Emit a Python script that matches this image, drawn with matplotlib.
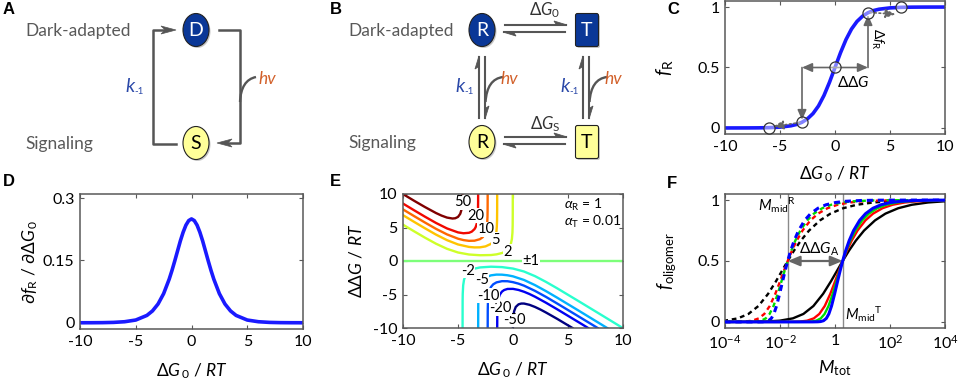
import numpy as np
import matplotlib
matplotlib.use('Agg')
import matplotlib.pyplot as plt
from matplotlib.patches import Ellipse, FancyBboxPatch, Polygon, PathPatch
from matplotlib.path import Path

plt.rcParams['font.family'] = ['Lato', 'DejaVu Sans']
plt.rcParams['mathtext.fontset'] = 'custom'
plt.rcParams['mathtext.rm'] = 'Lato'
plt.rcParams['mathtext.it'] = 'Lato:italic'
plt.rcParams['mathtext.bf'] = 'Lato:bold'
plt.rcParams['mathtext.fallback'] = 'stixsans'
plt.rcParams['axes.unicode_minus'] = False

# ---------------- data ----------------
# Panel C: f_R vs dG0/RT
C_DG0 = [-10, -9, -8, -7, -6, -5, -4, -3.5, -3, -2.5, -2, -1.5, -1, -0.5, 0,
         0.5, 1, 1.5, 2, 2.5, 3, 3.5, 4, 5, 6, 7, 8, 9, 10]
C_FR = [0.0000, 0.0001, 0.0003, 0.0009, 0.0025, 0.0067, 0.018, 0.029, 0.047, 0.076,
        0.119, 0.182, 0.269, 0.378, 0.5, 0.622, 0.731, 0.818, 0.881, 0.924, 0.953,
        0.971, 0.982, 0.993, 0.9975, 0.9991, 0.9997, 0.9999, 1.0]
C_PTS_X = [-6, -3, 0, 3, 6]
C_PTS_Y = [0.0025, 0.047, 0.5, 0.953, 0.9975]

# Panel D: dfR/dG0
D_DG0 = [-10, -9, -8, -7, -6, -5, -4, -3.5, -3, -2.5, -2, -1.75, -1.5, -1.25, -1, -0.75,
         -0.5, -0.25, 0, 0.25, 0.5, 0.75, 1, 1.25, 1.5, 1.75, 2, 2.5, 3, 3.5, 4, 5, 6, 7, 8, 9, 10]
D_DF = [0.00005, 0.0001, 0.0003, 0.0009, 0.0025, 0.0066, 0.0177, 0.0285, 0.0452, 0.0701,
        0.105, 0.126, 0.149, 0.173, 0.197, 0.218, 0.235, 0.246, 0.25, 0.246, 0.235, 0.218,
        0.197, 0.173, 0.149, 0.126, 0.105, 0.0701, 0.0452, 0.0285, 0.0177, 0.0066, 0.0025,
        0.0009, 0.0003, 0.0001, 0.00005]

# Panel E: contour lines (dG0, ddG) for each level
E_LEVELS = ['-50', '-20', '-10', '-5', '-2', '\u00b11', '2', '5', '10', '20', '50']
E_X = {
    '50': [-10, -9, -8, -7, -6.5, -6, -5.5, -5.25, -5, -4.8, -4.7, -4.65, -4.62, -4.6, -4.595, -4.59],
    '20': [-10, -9, -8, -7, -6, -5, -4.5, -4, -3.75, -3.5, -3.4, -3.3, -3.25, -3.2, -3.18, -3.172, -3.169],
    '10': [-10, -9, -8, -7, -6, -5, -4.5, -4, -3.5, -3, -2.75, -2.5, -2.4, -2.35, -2.32, -2.31, -2.305, -2.3035, -2.303],
    '5': [-10, -9, -8, -7, -6, -5, -4, -3.5, -3, -2.5, -2, -1.75, -1.6, -1.5, -1.47, -1.45, -1.44, -1.438, -1.4377],
    '2': [-10, -9, -8, -7, -6, -5, -4, -3, -2, -1.5, -1, -0.75, -0.5, -0.35, -0.2, -0.1, -0.05, -0.03, -0.022, -0.0205, -0.02025],
    '\u00b11': [-10, 10],
    '-2': [9.98, 8, 6, 4, 3, 2, 1, 0, -1, -2, -3, -3.5, -4, -4.3, -4.45, -4.53, -4.57, -4.58, -4.5848],
    '-5': [8.56, 6, 4, 3, 2, 1, 0, -0.5, -1, -1.5, -2, -2.5, -2.8, -3, -3.1, -3.15, -3.16, -3.1674],
    '-10': [7.697, 6, 4, 3, 2, 1, 0.5, 0, -0.5, -1, -1.5, -1.8, -2, -2.15, -2.25, -2.28, -2.295, -2.3025],
    '-20': [6.83, 6, 5, 4, 3, 2, 1.5, 1, 0.5, 0, -0.5, -0.8, -1, -1.2, -1.3, -1.38, -1.42, -1.43, -1.4375],
    '-50': [5.406, 5, 4, 3, 2.5, 2, 1.5, 1, 0.75, 0.5, 0.25, 0.1, 0.03, 0, -0.01, -0.0115],
}
E_Y = {
    '50': [9.99, 9.00, 8.05, 7.16, 6.78, 6.48, 6.34, 6.38, 6.58, 7.03, 7.56, 8.08, 8.66, 9.50, 9.89, 10.57],
    '20': [8.57, 7.58, 6.61, 5.68, 4.86, 4.27, 4.14, 4.21, 4.38, 4.76, 5.04, 5.54, 5.98, 6.87, 7.82, 8.85, 10.05],
    '10': [7.70, 6.71, 5.74, 4.80, 3.97, 3.33, 3.12, 3.01, 3.03, 3.26, 3.56, 4.23, 4.88, 5.57, 6.55, 7.41, 8.53, 9.46, 10.19],
    '5': [6.84, 5.85, 4.88, 3.94, 3.11, 2.47, 2.10, 2.03, 2.04, 2.18, 2.56, 3.02, 3.60, 4.50, 5.14, 6.09, 7.72, 9.48, 10.4],
    '2': [5.42, 4.44, 3.48, 2.58, 1.82, 1.27, 0.97, 0.86, 0.89, 0.99, 1.19, 1.38, 1.68, 1.99, 2.52, 3.28, 4.24, 5.34, 7.03, 8.83, 10.69],
    '\u00b11': [0, 0],
    '-2': [-10.0, -8.02, -6.03, -4.06, -3.12, -2.26, -1.57, -1.13, -0.91, -0.85, -0.96, -1.14, -1.53, -2.11, -2.78, -3.64, -4.92, -6.00, -10.5],
    '-5': [-10.0, -7.44, -5.46, -4.50, -3.60, -2.83, -2.29, -2.13, -2.04, -2.03, -2.14, -2.44, -2.89, -3.57, -4.42, -5.75, -6.58, -10.5],
    '-10': [-10.0, -8.31, -6.33, -5.36, -4.46, -3.68, -3.38, -3.16, -3.02, -3.01, -3.19, -3.48, -3.87, -4.46, -5.47, -6.30, -7.38, -10.5],
    '-20': [-10.0, -9.17, -8.18, -7.19, -6.23, -5.33, -4.93, -4.59, -4.32, -4.16, -4.17, -4.33, -4.56, -5.02, -5.50, -6.32, -7.48, -8.31, -10.5],
    '-50': [-10.0, -9.60, -8.62, -7.69, -7.25, -6.86, -6.54, -6.35, -6.35, -6.47, -6.86, -7.52, -8.32, -9.20, -9.88, -10.1],
}
E_LABEL_POS = {
    '50': (-4.6, 8.75), '20': (-3.35, 6.75), '10': (-2.45, 4.75), '5': (-1.6, 3.15),
    '2': (-0.5, 1.4), '\u00b11': (1.6, 0.0), '-2': (-4.1, -1.5), '-5': (-2.85, -2.85),
    '-10': (-2.2, -5.2), '-20': (-1.15, -7.05), '-50': (0.15, -8.8),
}

# Panel F: oligomer fraction; log10(M/M_mid) and fraction for each curve
F_MMID_R = 0.019
F_MMID_T = 1.9
F_FRAC = [0.0, 0.0001, 0.001, 0.003, 0.0099, 0.0291, 0.0654, 0.1304, 0.2308, 0.3333,
          0.4286, 0.5, 0.5833, 0.6667, 0.75, 0.8333, 0.8889, 0.9333, 0.9615, 0.9804,
          0.9901, 0.9967, 0.999, 0.9999, 0.99999]
F_LOGREL = {
    'black': [-4.5, -4.301, -3.301, -2.823, -2.297, -1.811, -1.427, -1.064, -0.710, -0.426,
              -0.183, 0, 0.225, 0.477, 0.778, 1.176, 1.556, 2.021, 2.512, 3.106,
              3.703, 4.655, 5.699, 7.699, 9.699],
    'red': [-4.3, -2.301, -1.801, -1.561, -1.297, -1.050, -0.849, -0.652, -0.449, -0.276,
            -0.121, 0, 0.152, 0.327, 0.540, 0.827, 1.105, 1.448, 1.813, 2.256,
            2.703, 3.416, 4.199, 5.699, 7.199],
    '#00dd00': [-4.3, -1.634, -1.301, -1.141, -0.963, -0.796, -0.657, -0.515, -0.361, -0.225,
                -0.100, 0, 0.128, 0.276, 0.460, 0.710, 0.954, 1.257, 1.580, 1.973,
                2.370, 3.003, 3.699, 5.032, 6.366],
    'blue': [-4.3, -1.101, -0.901, -0.804, -0.697, -0.593, -0.503, -0.405, -0.292, -0.185,
             -0.083, 0, 0.108, 0.236, 0.397, 0.617, 0.834, 1.104, 1.394, 1.746,
             2.103, 2.673, 3.299, 4.499, 5.699],
}

# ---------------- figure ----------------
W, H = 958, 383
fig = plt.figure(figsize=(W / 100, H / 100), dpi=100)

def axpos(l, t, r, b):
    return [l / W, 1 - b / H, (r - l) / W, (b - t) / H]

SPINE = '#595959'

def style(ax):
    ax.tick_params(direction='in', length=3, width=0.8, top=True, right=True,
                   labelsize=11.5, pad=4, color=SPINE)
    for s in ax.spines.values():
        s.set_linewidth(1.1)
        s.set_color(SPINE)

XLAB = r'$\Delta G_{\,0}$ / $RT$'
BLUE = '#1a1aff'

# ---- diagram overlay ----
ax0 = fig.add_axes([0, 0, 1, 1], zorder=0)
ax0.set_xlim(0, W)
ax0.set_ylim(H, 0)
ax0.axis('off')
LC = '#555555'
GRAYTXT = '#595959'
HVC = '#d2602a'
KC = '#2a48a8'
DBLUE = '#0a3797'
YEL = '#ffff99'

def head(tip, d, L=15, Wd=4.0):
    tip = np.array(tip, float)
    u = np.array(d, float); u = u / np.hypot(*u)
    n = np.array([-u[1], u[0]])
    pts = [tip, tip - u * L + n * Wd, tip - u * L * 0.72, tip - u * L - n * Wd]
    ax0.add_patch(Polygon(pts, closed=True, fc=LC, ec=LC, lw=0.5))

def half_head(tip, d, L=13, Wd=4.0):
    tip = np.array(tip, float)
    u = np.array(d, float); u = u / np.hypot(*u)
    n = np.array([-u[1], u[0]])
    pts = [tip, tip - u * L - n * Wd, tip - u * L * 0.8]
    ax0.add_patch(Polygon(pts, closed=True, fc=LC, ec=LC, lw=0.6))

def bez(p0, p1, p2):
    path = Path([p0, p1, p2], [Path.MOVETO, Path.CURVE3, Path.CURVE3])
    ax0.add_patch(PathPatch(path, fc='none', ec=LC, lw=1.7))

def ellipse(c, fc, txt, tc):
    ax0.add_patch(Ellipse((c[0] + 1.5, c[1] + 1.5), 26, 33, fc='#c8c8c8', ec='none'))
    ax0.add_patch(Ellipse(c, 26, 33, fc=fc, ec='#222222', lw=0.8))
    ax0.text(c[0], c[1] + 0.5, txt, color=tc, fontsize=14, ha='center', va='center')

def rect(c, fc, txt, tc):
    w, h = 23, 33
    ax0.add_patch(FancyBboxPatch((c[0] - w / 2 + 1.5, c[1] - h / 2 + 1.5), w, h,
                                 boxstyle='round,pad=0,rounding_size=2', fc='#c8c8c8', ec='none'))
    ax0.add_patch(FancyBboxPatch((c[0] - w / 2, c[1] - h / 2), w, h,
                                 boxstyle='round,pad=0,rounding_size=2', fc=fc, ec='#222222', lw=0.8))
    ax0.text(c[0], c[1] + 0.5, txt, color=tc, fontsize=14, ha='center', va='center')

def kminus(x, y):
    ax0.text(x, y, 'k', color=KC, fontsize=14, style='italic', ha='left', va='center')
    ax0.text(x + 9, y + 5, '-1', color=KC, fontsize=7, ha='left', va='center')

# Panel A
ax0.text(25, 31, 'Dark-adapted', color=GRAYTXT, fontsize=12.5, ha='left', va='center')
ax0.text(25, 144, 'Signaling', color=GRAYTXT, fontsize=12.5, ha='left', va='center')
ax0.plot([176, 153, 153, 165], [144, 144, 30, 30], color=LC, lw=1.8)
head((176, 30), (1, 0))
ax0.plot([219, 240, 240, 228], [30, 30, 143, 143], color=LC, lw=1.8)
head((217, 143), (-1, 0))
bez((240, 102), (241, 80), (256, 77))
ax0.text(258, 79, 'hv', color=HVC, fontsize=12.5, style='italic', ha='left', va='center')
kminus(125, 86)
ellipse((196, 30), DBLUE, 'D', 'white')
ellipse((196, 143), YEL, 'S', 'black')

# Panel B
ax0.text(348, 31, 'Dark-adapted', color=GRAYTXT, fontsize=12.5, ha='left', va='center')
ax0.text(348, 143, 'Signaling', color=GRAYTXT, fontsize=12.5, ha='left', va='center')
for yc in (29, 141):
    ax0.plot([505, 566], [yc - 4, yc - 4], color=LC, lw=1.5)
    half_head((567, yc - 4), (1, 0))
    ax0.plot([504, 565], [yc + 3, yc + 3], color=LC, lw=1.5)
    half_head((503, yc + 3), (-1, 0))
ax0.text(545, 10, r'$\Delta G_{\rm 0}$', color='#333333', fontsize=12, ha='center', va='center')
ax0.text(545, 124, r'$\Delta G_{\rm S}$', color='#333333', fontsize=12, ha='center', va='center')
for xu, xd, xh, xk in ((479, 485, 500, 455), (583, 589, 604, 560)):
    ax0.plot([xu, xu], [118, 57], color=LC, lw=1.5)
    half_head((xu, 56), (0, -1))
    ax0.plot([xd, xd], [57, 118], color=LC, lw=1.5)
    half_head((xd, 119), (0, 1))
    bez((xh + 3, 77), (xd + 2, 79), (xd + 0.5, 102))
    ax0.text(xh, 79, 'hv', color=HVC, fontsize=12.5, style='italic', ha='left', va='center')
    kminus(xk, 87)
ellipse((482, 30), DBLUE, 'R', 'white')
rect((587, 30), DBLUE, 'T', 'white')
ellipse((482, 142), YEL, 'R', 'black')
rect((587, 142), YEL, 'T', 'black')

# ---- Panel C ----
axC = fig.add_axes(axpos(725, 1, 945, 134), zorder=2)
style(axC)
axC.plot(C_DG0, C_FR, color=BLUE, lw=2.6, zorder=2)
aprops = dict(arrowstyle='-|>,head_length=0.5,head_width=0.22', color='#666666', lw=1.2,
              shrinkA=0, shrinkB=0, mutation_scale=12)
axC.annotate('', xy=(-3, 0.5), xytext=(0, 0.5), arrowprops=aprops)
axC.annotate('', xy=(3, 0.5), xytext=(0, 0.5), arrowprops=aprops)
axC.annotate('', xy=(-3, 0.065), xytext=(-3, 0.5), arrowprops=aprops)
axC.annotate('', xy=(3, 0.935), xytext=(3, 0.5), arrowprops=aprops)
dprops = dict(aprops, linestyle=':')
axC.annotate('', xy=(5.5, 0.94), xytext=(3.2, 0.955), arrowprops=dprops)
axC.annotate('', xy=(-5.6, 0.012), xytext=(-3.2, 0.045), arrowprops=dprops)
axC.plot(C_PTS_X, C_PTS_Y, 'o', ms=8, mfc=(1, 1, 1, 0.45), mec='#333333', mew=0.9, zorder=3)
axC.text(0.15, 0.375, r'$\Delta\Delta G$', fontsize=11, ha='left', va='center')
axC.text(3.85, 0.74, r'$\Delta f_{\rm R}$', fontsize=10, ha='center', va='center', rotation=-90)
axC.set_xlim(-10, 10)
axC.set_ylim(-0.05, 1.05)
axC.set_xticks([-10, -5, 0, 5, 10])
axC.set_yticks([0, 0.5, 1])
axC.set_yticklabels(['0', '0.5', '1'])
axC.set_xlabel(XLAB, fontsize=12.5, labelpad=8)
axC.set_ylabel(r'$f_{\rm R}$', fontsize=14, labelpad=16)

# ---- Panel D ----
axD = fig.add_axes(axpos(80, 194, 303, 329), zorder=2)
style(axD)
axD.plot(D_DG0, D_DF, color=BLUE, lw=2.6)
axD.set_xlim(-10, 10)
axD.set_ylim(-0.015, 0.31)
axD.set_xticks([-10, -5, 0, 5, 10])
axD.set_yticks([0, 0.15, 0.3])
axD.set_yticklabels(['0', '0.15', '0.3'])
axD.set_xlabel(XLAB, fontsize=12.5, labelpad=9)
axD.set_ylabel(r'$\partial f_{\rm R}$ / $\partial\Delta G_{\,0}$', fontsize=12.5, labelpad=2)

# ---- Panel E ----
axE = fig.add_axes(axpos(403, 194, 623, 328), zorder=2)
style(axE)
cols = plt.cm.jet(np.linspace(0, 1, len(E_LEVELS)))
for lev, c in zip(E_LEVELS, cols):
    axE.plot(E_X[lev], E_Y[lev], color=c, lw=1.7, zorder=2)
    px, py = E_LABEL_POS[lev]
    axE.text(px, py, lev, fontsize=10.5, ha='center', va='center', zorder=4,
             bbox=dict(fc='white', ec='none', pad=0.3))
axE.text(4.6, 8.4, r'$\alpha_{\rm R}$ = 1', fontsize=10, ha='left', va='center')
axE.text(4.6, 5.9, r'$\alpha_{\rm T}$ = 0.01', fontsize=10, ha='left', va='center')
axE.set_xlim(-10, 10)
axE.set_ylim(-10, 10)
axE.set_xticks([-10, -5, 0, 5, 10])
axE.set_yticks([-10, -5, 0, 5, 10])
axE.set_xlabel(XLAB, fontsize=12.5, labelpad=9)
axE.set_ylabel(r'$\Delta\Delta G$ / $RT$', fontsize=12.5, labelpad=6)

# ---- Panel F ----
axF = fig.add_axes(axpos(725, 194, 945, 328), zorder=2)
style(axF)
axF.set_xscale('log')
axF.axvline(F_MMID_R, color='#8a8a8a', lw=1.0, zorder=1)
axF.axvline(F_MMID_T, color='#8a8a8a', lw=1.0, zorder=1)
for c, rel in F_LOGREL.items():
    rel = np.array(rel)
    lw = 2.2 if c == 'blue' else 1.7
    axF.plot(F_MMID_R * 10 ** rel, F_FRAC, color=c, lw=lw, ls=(0, (2.0, 1.6)), zorder=2)
for c, rel in F_LOGREL.items():
    rel = np.array(rel)
    lw = 2.2 if c == 'blue' else 1.7
    axF.plot(F_MMID_T * 10 ** rel, F_FRAC, color=c, lw=lw, zorder=3)
axF.annotate('', xy=(F_MMID_R, 0.5), xytext=(F_MMID_T, 0.5),
             arrowprops=dict(arrowstyle='<|-|>,head_length=0.6,head_width=0.25', color='#666666',
                             lw=1.6, shrinkA=0, shrinkB=0, mutation_scale=12), zorder=4)
axF.text(0.05, 0.6, r'$\Delta\Delta G_{\rm A}$', fontsize=11, ha='left', va='center')
axF.text(0.0016, 0.955, r'$M_{\rm mid}{}^{\rm R}$', fontsize=10.5, ha='left', va='center')
axF.text(2.3, 0.06, r'$M_{\rm mid}{}^{\rm T}$', fontsize=10.5, ha='left', va='center')
axF.set_xlim(1e-4, 1e4)
axF.set_ylim(-0.05, 1.05)
axF.set_xticks([1e-4, 1e-2, 1, 1e2, 1e4])
axF.set_xticklabels([r'$10^{-4}$', r'$10^{-2}$', '1', r'$10^{2}$', r'$10^{4}$'])
axF.minorticks_off()
axF.set_yticks([0, 0.5, 1])
axF.set_yticklabels(['0', '0.5', '1'])
axF.set_xlabel(r'$M_{\rm tot}$', fontsize=13, labelpad=5)
axF.set_ylabel(r'$f_{\rm oligomer}$', fontsize=13.5, labelpad=14)

# panel letters
for s, x, y in (('A', 3, 9), ('B', 330, 9), ('C', 667, 10), ('D', 3, 182), ('E', 330, 182), ('F', 667, 183)):
    fig.text(x / W, 1 - y / H, s, fontsize=12, fontweight='bold', ha='left', va='center',
             family=['Liberation Sans', 'DejaVu Sans'])

fig.savefig('out.png', dpi=100)
